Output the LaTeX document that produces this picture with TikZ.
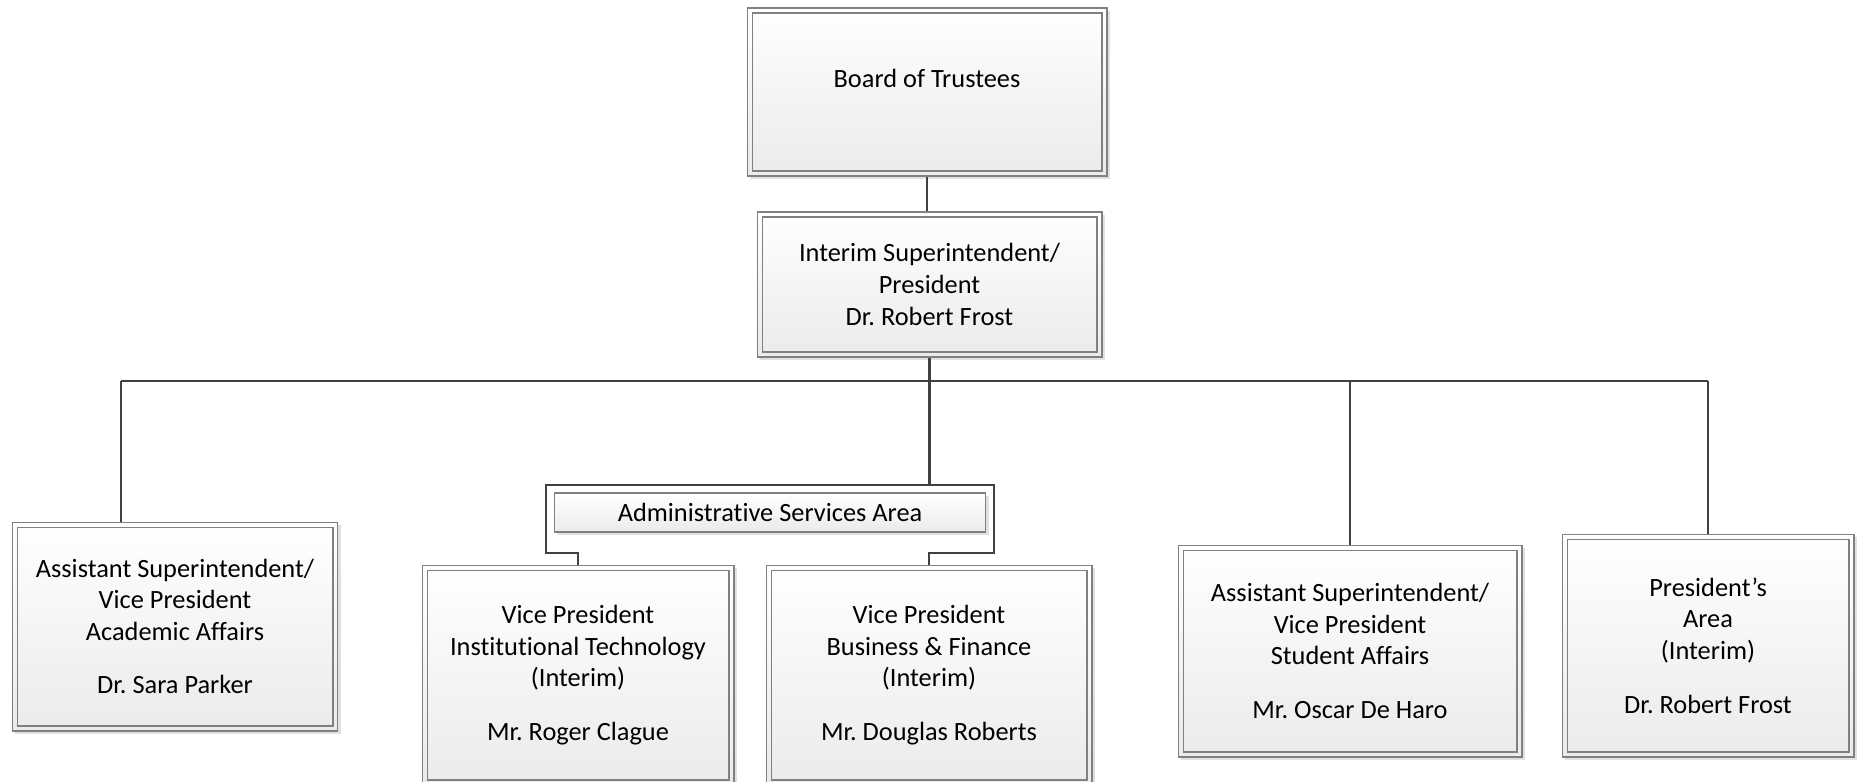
\documentclass[tikz,border=0pt]{standalone}
\usepackage{fontspec}
\setmainfont[Ligatures=NoCommon]{Carlito}
\usepackage{tikz}
\usetikzlibrary{calc,shadows}
\definecolor{boxgray}{RGB}{128,128,128}
\definecolor{linegray}{RGB}{64,64,64}
\frenchspacing

\begin{document}
\begin{tikzpicture}[x=0.02cm,y=-0.02cm]
\tikzstyle{tag}=[draw=boxgray,line width=0.6pt,top color=white,bottom color=black!8,align=center,inner sep=0pt,font=\fontsize{15}{18}\selectfont,drop shadow={shadow xshift=0.06cm,shadow yshift=-0.06cm,fill=black,opacity=0.12}]
\tikzstyle{boxes}=[tag,path picture={\draw[boxgray,line width=0.6pt] ([shift={(0.1cm,0.1cm)}]path picture bounding box.south west) rectangle ([shift={(-0.1cm,-0.1cm)}]path picture bounding box.north east);}]
\tikzstyle{lines}=[draw=linegray,line width=1.6pt]

\useasboundingbox (0,0) rectangle (1862,781);
\draw[shift={(927,92)}] node[boxes,minimum width=7.2cm,minimum height=3.36cm,text depth=0.55cm] (board) {Board of Trustees};
\draw[shift={(929.5,284.5)}] node[boxes,minimum width=6.9cm,minimum height=2.9cm] (pres) {Interim Superintendent/\\President\\Dr. Robert Frost};
\draw[shift={(175,626.5)}] node[boxes,minimum width=6.52cm,minimum height=4.18cm] (acad) {Assistant Superintendent/\\Vice President\\Academic Affairs\\[0.44cm]Dr. Sara Parker};
\draw[shift={(770,512.5)}] node[tag,minimum width=8.64cm,minimum height=0.78cm] (adm) {Administrative Services Area};
\draw[shift={(578,675)}] node[boxes,minimum width=6.24cm,minimum height=4.4cm] (it) {Vice President\\Institutional Technology\\(Interim)\\[0.44cm]Mr. Roger Clague};
\draw[shift={(929,675)}] node[boxes,minimum width=6.52cm,minimum height=4.4cm] (bus) {Vice President\\Business \& Finance\\(Interim)\\[0.44cm]Mr. Douglas Roberts};
\draw[shift={(1350,651)}] node[boxes,minimum width=6.88cm,minimum height=4.24cm] (stud) {Assistant Superintendent/\\Vice President\\Student Affairs\\[0.44cm]Mr. Oscar De Haro};
\draw[shift={(1708,645.5)}] node[boxes,minimum width=5.84cm,minimum height=4.46cm] (pa) {President’s\\Area\\(Interim)\\[0.44cm]Dr. Robert Frost};

\coordinate (busL) at (121,381);
\coordinate (busR) at (1708,381);
\coordinate (frNW) at (546,485);
\coordinate (frSE) at (994,553);
\draw[lines] (board.south) -- (board.south |- pres.north);
\draw[lines] (pres.south) -- (pres.south |- frNW);
\draw[lines] (busL) -- (busR);
\draw[lines] (busL) -- (busL |- acad.north);
\draw[lines] (stud.north |- busL) -- (stud.north);
\draw[lines] (busR) -- (pa.north);
\draw[lines] (it.north) -- (it.north |- frSE) -- (frNW |- frSE) -- (frNW) -- (frNW -| frSE) -- (frSE) -- (bus.north |- frSE) -- (bus.north);
\end{tikzpicture}
\end{document}
